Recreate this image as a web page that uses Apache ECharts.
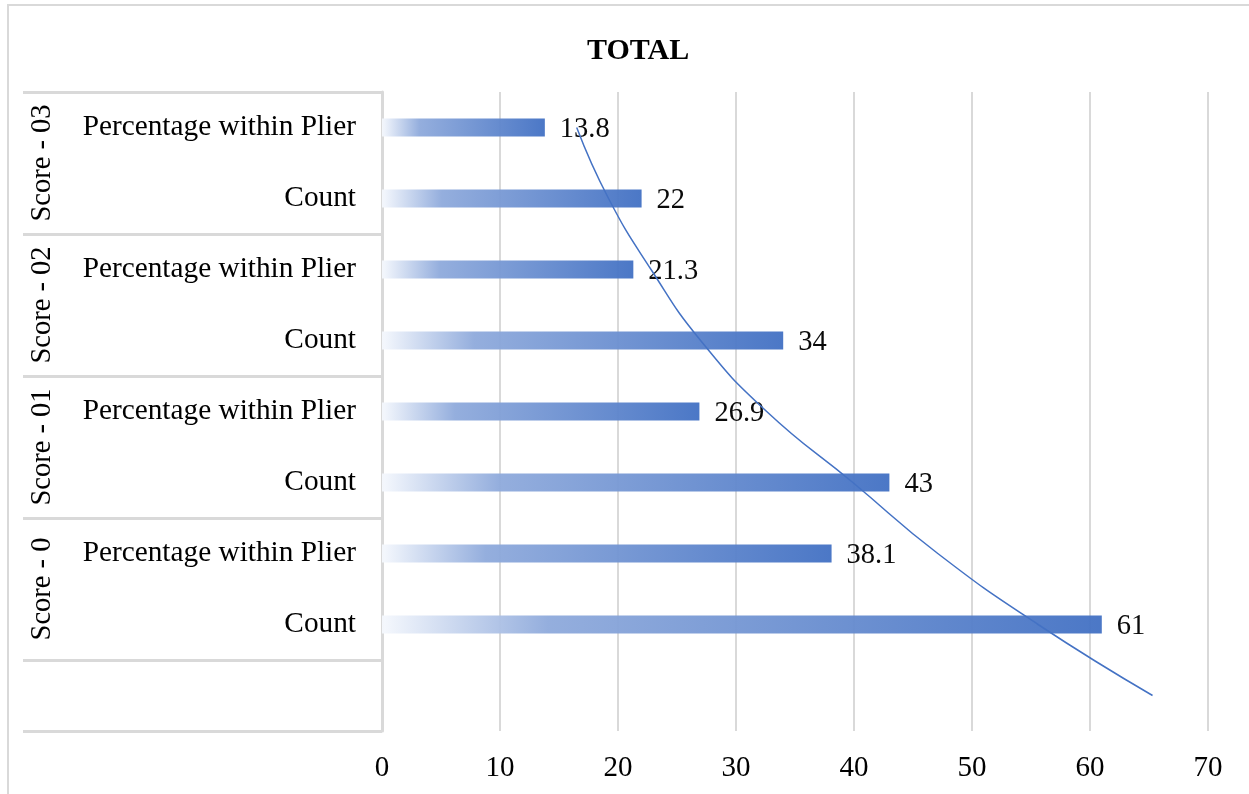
<!DOCTYPE html>
<html>
<head>
<meta charset="utf-8">
<title>TOTAL</title>
<script src="https://cdn.jsdelivr.net/npm/echarts@6/dist/echarts.min.js"></script>
<style>
  html, body { margin: 0; padding: 0; background: #ffffff; }
  #chart { width: 1249px; height: 794px; }
</style>
</head>
<body>
<div id="chart"></div>
<script>
// Categories listed bottom to top (the bottom slot is left blank)
const categories = ['', 'Count', 'Percentage within Plier', 'Count', 'Percentage within Plier',
                    'Count', 'Percentage within Plier', 'Count', 'Percentage within Plier'];
const values = [null, 61, 38.1, 43, 26.9, 34, 21.3, 22, 13.8];
// Trend curve, one point per category slot
const trendValues = [65.3, 55.6, 47.1, 39.9, 32.6, 27.0, 22.8, 19.2, 16.5];
// Group labels, keyed by their centre on a 0..9 slot scale
const groupNames = { 2: 'Score - 0', 4: 'Score - 01', 6: 'Score - 02', 8: 'Score - 03' };
const groupCenters = [2, 4, 6, 8];
const groupBounds = [0, 1, 3, 5, 7, 9];
const xTicks = { min: 0, max: 70, step: 10 };

const serif = '"Liberation Serif", "Times New Roman", serif';
const gridGray = '#d9d9d9';

const chart = echarts.init(document.getElementById('chart'));

const barGradient = new echarts.graphic.LinearGradient(0, 0, 1, 0, [
  { offset: 0, color: '#f5f8fd' },
  { offset: 0.23, color: '#90abdc' },
  { offset: 1, color: '#4472c4' }
]);

chart.setOption({
  animation: false,
  backgroundColor: '#ffffff',
  title: {
    text: 'TOTAL',
    left: 582,
    top: 31,
    textStyle: { fontFamily: serif, fontWeight: 'bold', fontSize: 30, color: '#000000' }
  },
  graphic: [{
    type: 'rect',
    shape: { x: 8, y: 5, width: 1250, height: 800 },
    style: { fill: 'none', stroke: gridGray, lineWidth: 2 },
    silent: true,
    z: -1
  }],
  grid: { left: 382, right: 41, top: 92, bottom: 63, containLabel: false },
  xAxis: {
    type: 'value',
    min: xTicks.min,
    max: xTicks.max,
    interval: xTicks.step,
    axisLine: { show: false },
    axisTick: { show: false },
    axisLabel: { fontFamily: serif, fontSize: 29, color: '#000000', margin: 23 },
    splitLine: { show: true, lineStyle: { color: gridGray, width: 2 } }
  },
  yAxis: [{
    type: 'category',
    data: categories,
    position: 'left',
    axisLine: { show: true, lineStyle: { color: gridGray, width: 3 } },
    axisTick: { show: false },
    axisLabel: { fontFamily: serif, fontSize: 29.3, color: '#000000', margin: 26 },
    splitLine: { show: false }
  }, {
    type: 'value',
    min: 0,
    max: 9,
    position: 'left',
    axisLine: { show: false },
    splitLine: { show: false },
    axisTick: {
      show: true,
      customValues: groupBounds,
      length: 359,
      lineStyle: { color: gridGray, width: 3 }
    },
    axisLabel: {
      show: true,
      customValues: groupCenters,
      formatter: v => groupNames[v] || '',
      rotate: 90,
      align: 'center',
      verticalAlign: 'middle',
      margin: 339,
      fontFamily: serif,
      fontSize: 28.5,
      color: '#000000'
    }
  }],
  series: [{
    type: 'bar',
    yAxisIndex: 0,
    data: values,
    barWidth: 18,
    itemStyle: { color: barGradient, opacity: 0.96 },
    label: {
      show: true,
      position: 'right',
      distance: 15,
      offset: [0, 2],
      fontFamily: serif,
      fontSize: 28.5,
      color: '#000000'
    },
    z: 2
  }, {
    type: 'line',
    yAxisIndex: 0,
    data: trendValues,
    smooth: true,
    showSymbol: false,
    symbol: 'none',
    lineStyle: { color: '#4472c4', width: 1.5 },
    z: 3
  }]
});
</script>
</body>
</html>
